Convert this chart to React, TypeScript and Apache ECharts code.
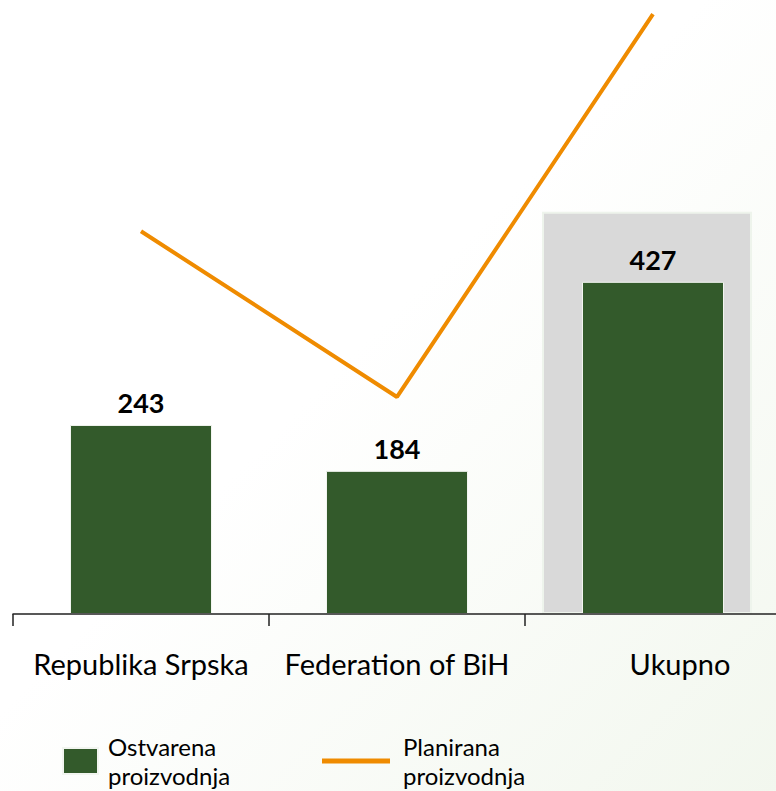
import React, { useEffect, useRef } from "react";
import * as echarts from "echarts";

const categories = ["Republika Srpska", "Federation of BiH", "Ukupno"];
const actualName = "Ostvarena proizvodnja";
const plannedName = "Planirana proizvodnja";
const actualValues = [243, 184, 427];
const plannedValues = [492, 279, 771];
const highlightValues = ["-", "-", 517];

export default function App() {
  const ref = useRef<HTMLDivElement>(null);
  useEffect(() => {
    document.body.style.overflow = "hidden";
    const chart = echarts.init(ref.current!, null, { renderer: "svg" });
    const font = "Lato";
    chart.setOption({
      animation: false,
      backgroundColor: {
        type: "linear",
        x: 0,
        y: 0,
        x2: 1,
        y2: 1,
        colorStops: [
          { offset: 0, color: "#ffffff" },
          { offset: 0.45, color: "#ffffff" },
          { offset: 1, color: "#f2f7ee" },
        ],
      },
      grid: [
        { left: 13, right: 0, top: 7.2, bottom: 177 },
        { left: 7, right: 6, top: 7.2, bottom: 177 },
      ],
      xAxis: [
        {
          type: "category",
          gridIndex: 0,
          data: categories,
          boundaryGap: true,
          axisLine: { show: true, lineStyle: { color: "#222", width: 1.5 } },
          axisTick: { show: true, length: 12, interval: 0, lineStyle: { color: "#222", width: 1.5 } },
          axisLabel: {
            fontFamily: font,
            fontSize: 29,
            color: "#000",
            margin: 35,
            interval: 0,
            formatter: (v: string, i: number) => (i === 2 ? "{u|" + v + "}" : v),
            rich: { u: { fontFamily: font, fontSize: 29, color: "#000", padding: [0, 0, 0, 54] } },
          },
          z: 5,
        },
        {
          type: "category",
          gridIndex: 1,
          data: categories,
          show: false,
        },
      ],
      yAxis: [
        { type: "value", gridIndex: 0, min: 0, max: 780, show: false, splitLine: { show: false } },
        { type: "value", gridIndex: 1, min: 0, max: 780, show: false, splitLine: { show: false } },
      ],
      legend: [
        {
          data: [actualName],
          left: 62,
          top: 732,
          padding: 0,
          itemWidth: 35,
          itemHeight: 26,
          icon: "rect",
          formatter: (n: string) => n.replace(" ", "\n"),
          textStyle: { fontFamily: font, fontSize: 24, lineHeight: 29, color: "#000", padding: [0, 0, 0, 5] },
        },
        {
          data: [{ name: plannedName, icon: "rect" }],
          left: 322,
          top: 732,
          padding: 0,
          itemWidth: 68,
          itemHeight: 5,
          formatter: (n: string) => n.replace(" ", "\n"),
          textStyle: { fontFamily: font, fontSize: 24, lineHeight: 29, color: "#000", padding: [0, 0, 0, 8] },
        },
      ],
      series: [
        {
          name: "highlight",
          type: "bar",
          xAxisIndex: 1,
          yAxisIndex: 1,
          data: highlightValues,
          barWidth: 210,
          silent: true,
          z: 1,
          itemStyle: { color: "#d9d9d9", borderColor: "#eef4ec", borderWidth: 2 },
        },
        {
          name: actualName,
          type: "bar",
          data: actualValues,
          barWidth: 142,
          z: 3,
          itemStyle: { color: "#335a2b", borderColor: "#f2f5f0", borderWidth: 1 },
          label: {
            show: true,
            position: "top",
            distance: 9,
            fontFamily: font,
            fontWeight: "bold",
            fontSize: 27,
            color: "#000",
          },
        },
        {
          name: plannedName,
          type: "line",
          data: plannedValues,
          symbol: "none",
          z: 4,
          itemStyle: { color: "#ef8b00" },
          lineStyle: { color: "#ef8b00", width: 4 },
        },
      ],
    });
    return () => chart.dispose();
  }, []);
  return (
    <div
      ref={ref}
      style={{ position: "fixed", left: 0, top: 0, width: 781, height: 791 }}
    />
  );
}
